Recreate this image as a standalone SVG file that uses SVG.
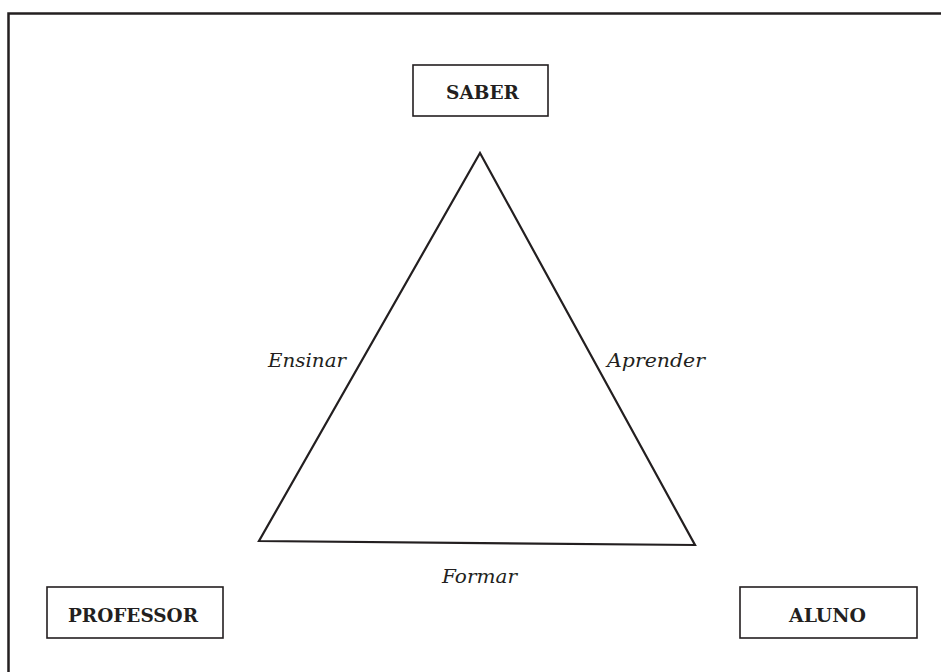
<svg xmlns="http://www.w3.org/2000/svg" width="941" height="672" viewBox="0 0 941 672">
<style>
.box{fill:#fff;stroke:#231f20;stroke-width:1.6}
.lbl{font-family:"DejaVu Serif","Liberation Serif",serif;font-weight:bold;font-size:18px;fill:#231f20;text-anchor:middle}
.edge{font-family:"DejaVu Serif","Liberation Serif",serif;font-style:italic;font-size:19px;fill:#231f20}
</style>
<rect width="941" height="672" fill="#fff"/>
<path d="M8.5,672 V13.5 H941" fill="none" stroke="#231f20" stroke-width="2.5"/>
<g id="connectors">
<path d="M480,153 L695,545 L259,541 Z" fill="none" stroke="#231f20" stroke-width="2.2" stroke-linejoin="miter"/>
<text class="edge" x="268" y="367" textLength="78" lengthAdjust="spacingAndGlyphs">Ensinar</text>
<text class="edge" x="607" y="367" textLength="98" lengthAdjust="spacingAndGlyphs">Aprender</text>
<text class="edge" x="442" y="583" textLength="75" lengthAdjust="spacingAndGlyphs">Formar</text>
</g>
<g id="saber">
<rect class="box" x="413" y="65" width="135" height="51"/>
<text class="lbl" x="482.5" y="99" textLength="73" lengthAdjust="spacingAndGlyphs">SABER</text>
</g>
<g id="professor">
<rect class="box" x="47" y="587" width="176" height="51"/>
<text class="lbl" x="133" y="622" textLength="130" lengthAdjust="spacingAndGlyphs">PROFESSOR</text>
</g>
<g id="aluno">
<rect class="box" x="740" y="587" width="177" height="51"/>
<text class="lbl" x="827.5" y="622" textLength="77" lengthAdjust="spacingAndGlyphs">ALUNO</text>
</g>
</svg>
